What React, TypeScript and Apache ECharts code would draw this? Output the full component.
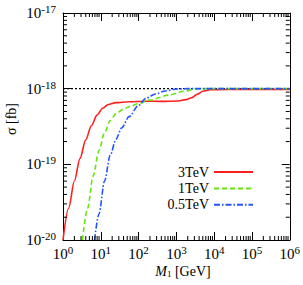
import React, { useEffect, useRef } from "react";
import * as echarts from "echarts";

// ---- data ----
const m3TeV = [1, 1.41, 2.0, 2.82, 3.98, 5.62, 7.94, 11.2, 15.8, 25.1, 56.2, 158, 398, 1122, 1778, 2512, 3548, 5012, 7943, 19953, 1e6];
const s3TeV = [1e-20, 2.63e-20, 6.03e-20, 1.2e-19, 2.09e-19, 3.24e-19, 4.47e-19, 5.5e-19, 6.17e-19, 6.53e-19, 6.73e-19, 6.82e-19, 6.79e-19, 6.87e-19, 7.16e-19, 7.59e-19, 8.41e-19, 9.23e-19, 9.66e-19, 9.77e-19, 9.8e-19];

const m1TeV = [3.27, 4.47, 6.31, 8.91, 12.6, 17.8, 25.1, 39.8, 63.1, 100, 200, 631, 1585, 3162, 6310, 1e6];
const s1TeV = [1e-20, 2.63e-20, 7.08e-20, 1.51e-19, 2.63e-19, 3.8e-19, 4.68e-19, 5.37e-19, 5.89e-19, 6.38e-19, 7.08e-19, 8.22e-19, 9.23e-19, 9.89e-19, 1e-18, 1e-18];

const m05TeV = [6.84, 8.91, 12.6, 17.8, 25.1, 35.5, 56.2, 100, 158, 282, 501, 1000, 1995, 1e6];
const s05TeV = [1e-20, 2.19e-20, 6.03e-20, 1.32e-19, 2.14e-19, 3.02e-19, 4.27e-19, 6.03e-19, 7.5e-19, 8.51e-19, 9.33e-19, 9.89e-19, 1e-18, 1e-18];

const seriesNames = ["3TeV", "1TeV", "0.5TeV"];
const referenceLevel = 1e-18;

const xMin = 1;
const xMax = 1e6;
const yMin = 1e-20;
const yMax = 1e-17;

const xDecades = [0, 1, 2, 3, 4, 5];
const yDecades = [-20, -19, -18];
const minorMultipliers = [2, 3, 4, 5, 6, 7, 8, 9];

const FONT = "Liberation Serif";

function pairs(xs: number[], ys: number[]) {
  return xs.map((x, i) => [x, ys[i]]);
}

function powLabel(v: number) {
  const e = Math.round(Math.log10(v));
  return `{b|10}{e|${e}}`;
}

export default function App() {
  const ref = useRef<HTMLDivElement>(null);

  useEffect(() => {
    if (!ref.current) return;
    const chart = echarts.init(ref.current, undefined, { renderer: "svg" });

    const minorData: number[][] = [];
    xDecades.forEach((d) =>
      minorMultipliers.forEach((k) => minorData.push([k * Math.pow(10, d), yMin, 0]))
    );
    yDecades.forEach((d) =>
      minorMultipliers.forEach((k) => minorData.push([xMin, k * Math.pow(10, d), 1]))
    );

    const labelRich = {
      b: { fontFamily: FONT, fontSize: 15, color: "#000", lineHeight: 16 },
      e: { fontFamily: FONT, fontSize: 11, color: "#000", lineHeight: 12, padding: [0, 0, 8, 0] },
    };

    const commonAxis = {
      type: "log" as const,
      logBase: 10,
      axisLine: { show: true, lineStyle: { color: "#000", width: 1 } },
      axisTick: { show: true, inside: true, length: 8, lineStyle: { color: "#000", width: 1 } },
      splitLine: { show: false },
      minorTick: { show: false },
    };

    const lineSeries = (name: string, xs: number[], ys: number[], color: string, type: any) => ({
      name,
      type: "line",
      data: pairs(xs, ys),
      smooth: 0.3,
      smoothMonotone: "x",
      symbol: "none",
      showSymbol: false,
      z: 3,
      color,
      itemStyle: { color },
      lineStyle: { color, width: 1.6, type },
    });

    chart.setOption({
      animation: false,
      backgroundColor: "#fff",
      textStyle: { fontFamily: FONT },
      grid: { left: 63, right: 10, top: 13, bottom: 45, containLabel: false },
      legend: {
        data: seriesNames,
        orient: "vertical",
        right: 44,
        top: 160,
        align: "right",
        itemWidth: 39,
        itemHeight: 14,
        itemGap: 2.4,
        itemStyle: { opacity: 0 },
        textStyle: { fontFamily: FONT, fontSize: 14, color: "#000" },
      },
      xAxis: [
        {
          ...commonAxis,
          min: xMin,
          max: xMax,
          splitNumber: 6,
          position: "bottom",
          axisLabel: {
            show: true,
            margin: 6,
            fontFamily: FONT,
            fontSize: 15,
            color: "#000",
            formatter: powLabel,
            rich: labelRich,
          },
        },
        {
          ...commonAxis,
          min: xMin,
          max: xMax,
          splitNumber: 6,
          position: "top",
          axisLabel: { show: false },
        },
      ],
      yAxis: [
        {
          ...commonAxis,
          min: yMin,
          max: yMax,
          splitNumber: 3,
          position: "left",
          axisLabel: {
            show: true,
            margin: 7,
            fontFamily: FONT,
            fontSize: 15,
            color: "#000",
            formatter: powLabel,
            rich: labelRich,
          },
        },
        {
          ...commonAxis,
          min: yMin,
          max: yMax,
          splitNumber: 3,
          position: "right",
          axisLabel: { show: false },
        },
      ],
      graphic: [
        {
          type: "text",
          x: 11,
          y: 119,
          rotation: Math.PI / 2,
          style: {
            text: "σ [fb]",
            fontFamily: FONT,
            fontSize: 14,
            fill: "#000",
            textAlign: "center",
            textVerticalAlign: "middle",
          },
        },
        {
          type: "text",
          x: 183,
          y: 271,
          style: {
            text: "{i|M}{s|1} [GeV]",
            fontFamily: FONT,
            fontSize: 14,
            fill: "#000",
            textAlign: "center",
            textVerticalAlign: "middle",
            rich: {
              i: { fontFamily: FONT, fontSize: 14, fontStyle: "italic", fill: "#000" },
              s: { fontFamily: FONT, fontSize: 9, fill: "#000", padding: [5, 0, 0, 0] },
            },
          },
        },
      ],
      series: [
        {
          name: "ref",
          type: "line",
          data: [
            [xMin, referenceLevel],
            [xMax, referenceLevel],
          ],
          symbol: "none",
          z: 1,
          lineStyle: { color: "#000", width: 1.3, type: [2, 2] },
        },
        {
          name: "minorTicks",
          type: "custom",
          data: minorData,
          silent: true,
          clip: false,
          z: 5,
          renderItem: (params: any, api: any) => {
            const kind = api.value(2);
            const style = { stroke: "#000", lineWidth: 1 };
            if (kind === 0) {
              const v = api.value(0);
              const b = api.coord([v, yMin]);
              const t = api.coord([v, yMax]);
              return {
                type: "group",
                children: [
                  { type: "line", shape: { x1: b[0], y1: b[1], x2: b[0], y2: b[1] - 4 }, style },
                  { type: "line", shape: { x1: t[0], y1: t[1], x2: t[0], y2: t[1] + 4 }, style },
                ],
              };
            }
            const v = api.value(1);
            const l = api.coord([xMin, v]);
            const r = api.coord([xMax, v]);
            return {
              type: "group",
              children: [
                { type: "line", shape: { x1: l[0], y1: l[1], x2: l[0] + 4, y2: l[1] }, style },
                { type: "line", shape: { x1: r[0], y1: r[1], x2: r[0] - 4, y2: r[1] }, style },
              ],
            };
          },
        },
        lineSeries("3TeV", m3TeV, s3TeV, "#ff1f1f", "solid"),
        lineSeries("1TeV", m1TeV, s1TeV, "#66e611", [5, 3]),
        lineSeries("0.5TeV", m05TeV, s05TeV, "#2255ff", [6, 2, 1.5, 2]),
      ],
    });

    return () => chart.dispose();
  }, []);

  return (
    <div
      ref={ref}
      style={{ position: "absolute", left: 0, top: 0, width: 303, height: 285 }}
    />
  );
}
